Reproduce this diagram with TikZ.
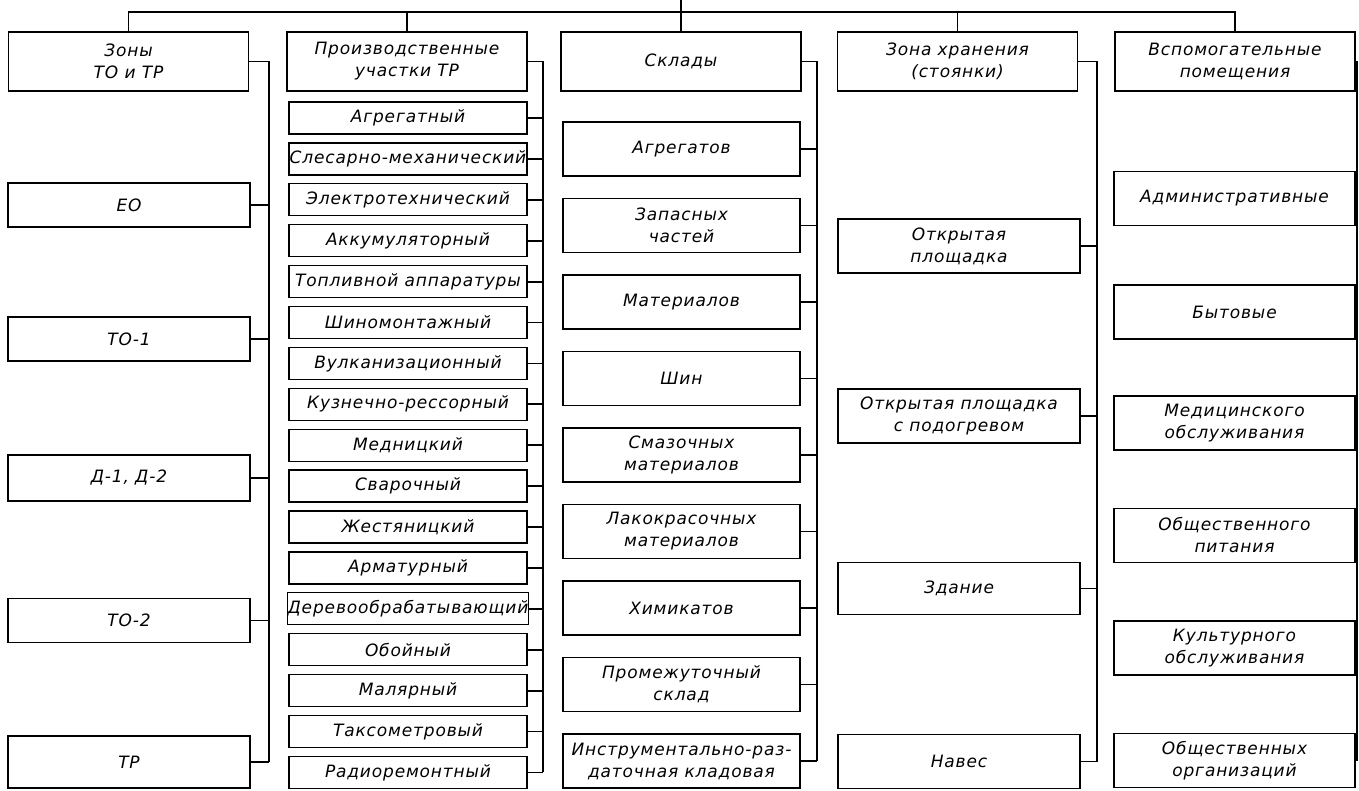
\documentclass[tikz,border=0pt]{standalone}
\usepackage{fontspec}
\setmainfont{DejaVu Sans}[LetterSpace = 5]
\usetikzlibrary{positioning}

\begin{document}
\begin{tikzpicture}[
        x = 1pt, y = -1pt,
        every node/.style = {font = \fontsize{17}{22}\selectfont\itshape},
        line width = 1.8pt
    ]
    \tikzstyle{block} = [draw = black, line width = 1.3pt, align = center, inner sep = 1pt, outer sep = 0pt, minimum width = 240pt, minimum height = 54pt];
    \tikzstyle{shop} = [block, inner xsep = 0pt, minimum width = 238pt, minimum height = 32pt];
    \useasboundingbox (0, 0) rectangle (1359, 790);

    \node [block, minimum height = 59pt] (z0) at (128.5, 61.5) {Зоны\\ТО и ТР};
    \node [block, minimum height = 59pt] (p0) at (407, 61.5) {Производственные\\участки ТР};
    \node [block, minimum height = 59pt] (s0) at (681, 61.5) {Склады};
    \node [block, minimum height = 59pt] (h0) at (957.5, 61.5) {Зона хранения\\(стоянки)};
    \node [block, minimum height = 59pt] (v0) at (1235, 61.5) {Вспомогательные\\помещения};

    \node [block, minimum width = 242pt, minimum height = 44pt] (z1) at (129, 205) {ЕО};
    \node [block, minimum width = 242pt, minimum height = 44pt] (z2) at (129, 339) {ТО-1};
    \node [block, minimum width = 242pt, minimum height = 46pt] (z3) at (129, 478) {Д-1, Д-2};
    \node [block, minimum width = 242pt, minimum height = 44pt] (z4) at (129, 620.5) {ТО-2};
    \node [block, minimum width = 242pt, minimum height = 52pt] (z5) at (129, 762) {ТР};

    \node [shop] (p1) at (408, 118) {Агрегатный};
    \node [shop, below = 8.9pt of p1] (p2) {Слесарно-механический};
    \node [shop, below = 8.9pt of p2] (p3) {Электротехнический};
    \node [shop, below = 8.9pt of p3] (p4) {Аккумуляторный};
    \node [shop, below = 8.9pt of p4] (p5) {Топливной аппаратуры};
    \node [shop, below = 8.9pt of p5] (p6) {Шиномонтажный};
    \node [shop, below = 8.9pt of p6] (p7) {Вулканизационный};
    \node [shop, below = 8.9pt of p7] (p8) {Кузнечно-рессорный};
    \node [shop, below = 8.9pt of p8] (p9) {Медницкий};
    \node [shop, below = 8.9pt of p9] (p10) {Сварочный};
    \node [shop, below = 8.9pt of p10] (p11) {Жестяницкий};
    \node [shop, below = 8.9pt of p11] (p12) {Арматурный};
    \node [shop, below = 8.9pt of p12] (p13) {Деревообрабатывающий};
    \node [shop, below = 8.9pt of p13] (p14) {Обойный};
    \node [shop, below = 8.9pt of p14] (p15) {Малярный};
    \node [shop, below = 8.9pt of p15] (p16) {Таксометровый};
    \node [shop, below = 8.9pt of p16] (p17) {Радиоремонтный};

    \node [block, minimum width = 237pt] (s1) at (681.5, 149) {Агрегатов};
    \node [block, minimum width = 237pt, below = 22.5pt of s1] (s2) {Запасных\\частей};
    \node [block, minimum width = 237pt, below = 22.5pt of s2] (s3) {Материалов};
    \node [block, minimum width = 237pt, below = 22.5pt of s3] (s4) {Шин};
    \node [block, minimum width = 237pt, below = 22.5pt of s4] (s5) {Смазочных\\материалов};
    \node [block, minimum width = 237pt, below = 22.5pt of s5] (s6) {Лакокрасочных\\материалов};
    \node [block, minimum width = 237pt, below = 22.5pt of s6] (s7) {Химикатов};
    \node [block, minimum width = 237pt, below = 22.5pt of s7] (s8) {Промежуточный\\склад};
    \node [block, minimum width = 237pt, below = 22.5pt of s8] (s9) {Инструментально-раз-\\даточная кладовая};

    \node [block, minimum width = 242pt] (h1) at (959, 246) {Открытая\\площадка};
    \node [block, minimum width = 242pt] (h2) at (959, 416) {Открытая площадка\\с подогревом};
    \node [block, minimum width = 242pt, minimum height = 52pt] (h3) at (959, 588.5) {Здание};
    \node [block, minimum width = 242pt] (h4) at (959, 761.5) {Навес};

    \node [block, minimum width = 241pt] (v1) at (1234.5, 198.5) {Административные};
    \node [block, minimum width = 241pt] (v2) at (1234.5, 312) {Бытовые};
    \node [block, minimum width = 241pt] (v3) at (1234.5, 423) {Медицинского\\обслуживания};
    \node [block, minimum width = 241pt] (v4) at (1234.5, 535.5) {Общественного\\питания};
    \node [block, minimum width = 241pt] (v5) at (1234.5, 648) {Культурного\\обслуживания};
    \node [block, minimum width = 241pt] (v6) at (1234.5, 760.5) {Общественных\\организаций};

    \coordinate (root) at (681, 0);
    \coordinate (bus) at (681, 12);
    \draw (root) -- (bus);
    \draw (z0.north) |- (bus) -| (v0.north);
    \draw (bus) -| (p0.north);
    \draw (bus) -- (s0.north);
    \draw (bus) -| (h0.north);

    \coordinate (zb) at (269, 61.5);
    \draw (z0.east) -- (zb) -- (zb |- z5.east);
    \draw (z1.east) -- (z1.east -| zb);
    \draw (z2.east) -- (z2.east -| zb);
    \draw (z3.east) -- (z3.east -| zb);
    \draw (z4.east) -- (z4.east -| zb);
    \draw (z5.east) -- (z5.east -| zb);

    \coordinate (pb) at (543, 61.5);
    \draw (p0.east) -- (pb) -- (pb |- p17.east);
    \draw (p1.east) -- (p1.east -| pb);
    \draw (p2.east) -- (p2.east -| pb);
    \draw (p3.east) -- (p3.east -| pb);
    \draw (p4.east) -- (p4.east -| pb);
    \draw (p5.east) -- (p5.east -| pb);
    \draw (p6.east) -- (p6.east -| pb);
    \draw (p7.east) -- (p7.east -| pb);
    \draw (p8.east) -- (p8.east -| pb);
    \draw (p9.east) -- (p9.east -| pb);
    \draw (p10.east) -- (p10.east -| pb);
    \draw (p11.east) -- (p11.east -| pb);
    \draw (p12.east) -- (p12.east -| pb);
    \draw (p13.east) -- (p13.east -| pb);
    \draw (p14.east) -- (p14.east -| pb);
    \draw (p15.east) -- (p15.east -| pb);
    \draw (p16.east) -- (p16.east -| pb);
    \draw (p17.east) -- (p17.east -| pb);

    \coordinate (sb) at (817, 61.5);
    \draw (s0.east) -- (sb) -- (sb |- s9.east);
    \draw (s1.east) -- (s1.east -| sb);
    \draw (s2.east) -- (s2.east -| sb);
    \draw (s3.east) -- (s3.east -| sb);
    \draw (s4.east) -- (s4.east -| sb);
    \draw (s5.east) -- (s5.east -| sb);
    \draw (s6.east) -- (s6.east -| sb);
    \draw (s7.east) -- (s7.east -| sb);
    \draw (s8.east) -- (s8.east -| sb);
    \draw (s9.east) -- (s9.east -| sb);

    \coordinate (hb) at (1097, 61.5);
    \draw (h0.east) -- (hb) -- (hb |- h4.east);
    \draw (h1.east) -- (h1.east -| hb);
    \draw (h2.east) -- (h2.east -| hb);
    \draw (h3.east) -- (h3.east -| hb);
    \draw (h4.east) -- (h4.east -| hb);

    \coordinate (vb) at (1357, 61.5);
    \draw (v0.east) -- (vb) -- (vb |- v6.east);
    \draw (v1.east) -- (v1.east -| vb);
    \draw (v2.east) -- (v2.east -| vb);
    \draw (v3.east) -- (v3.east -| vb);
    \draw (v4.east) -- (v4.east -| vb);
    \draw (v5.east) -- (v5.east -| vb);
    \draw (v6.east) -- (v6.east -| vb);
\end{tikzpicture}
\end{document}
